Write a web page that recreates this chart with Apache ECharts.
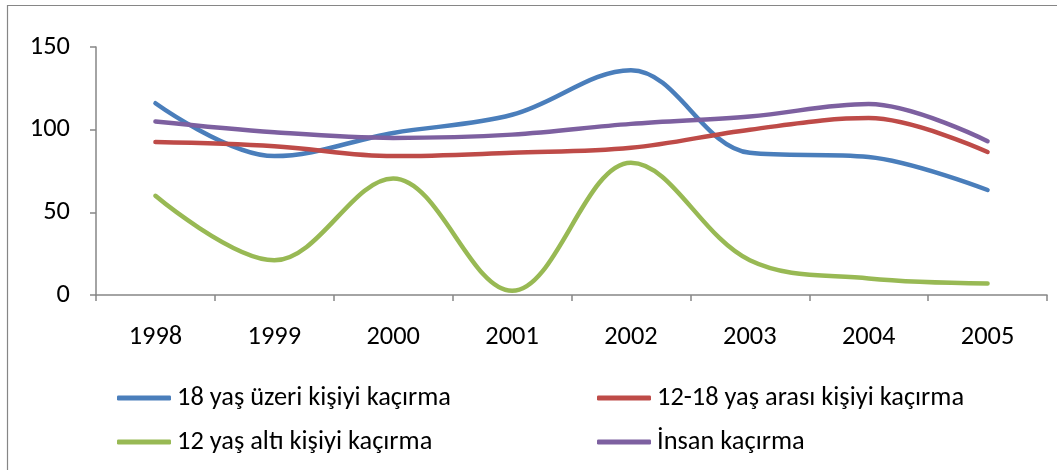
<!DOCTYPE html>
<html>
<head>
<meta charset="utf-8">
<script src="https://cdn.jsdelivr.net/npm/echarts@6/dist/echarts.min.js"></script>
<style>
html,body{margin:0;padding:0;background:#fff;}
#c{width:1057px;height:470px;}
</style>
</head>
<body>
<div id="c"></div>
<script>
const categories = ['1998','1999','2000','2001','2002','2003','2004','2005'];
const seriesNames = ['18 yaş üzeri kişiyi kaçırma','12-18 yaş arası kişiyi kaçırma','12 yaş altı kişiyi kaçırma','İnsan kaçırma'];
const over18 = [116, 84, 98, 109, 136, 86, 83.5, 63.5];
const age12to18 = [92.5, 90, 84, 86, 89, 100, 107, 86.5];
const under12 = [60, 21, 70.5, 2.5, 80, 21, 10, 7];
const abduction = [105, 98.5, 95, 97, 103.5, 108, 115.5, 93];
const colors = ['#4A7EBB','#BE4B48','#98B954','#7D60A0'];
const seriesData = [over18, age12to18, under12, abduction];

const FONT = 'Carlito, "Open Sans", Lato, sans-serif';
const chart = echarts.init(document.getElementById('c'), null, {renderer:'canvas'});

const legendPos = [
  {left:117, top:385},
  {left:597, top:385},
  {left:117, top:429},
  {left:597, top:429}
];

chart.setOption({
  animation:false,
  backgroundColor:'#fff',
  textStyle:{fontFamily:FONT},
  graphic:[{
    type:'rect',
    shape:{x:7.5,y:5.5,width:1100,height:500},
    style:{fill:'none',stroke:'#868686',lineWidth:1.2},
    silent:true
  }],
  grid:{left:96,right:10,top:47,bottom:175,containLabel:false},
  legend: seriesNames.map((n,i)=>({
    data:[n],
    left:legendPos[i].left,
    top:legendPos[i].top,
    icon:'roundRect',
    itemWidth:54,
    itemHeight:5,
    itemGap:6,
    padding:0,
    textStyle:{fontFamily:FONT,fontSize:26.4,color:'#000',padding:[0,0,0,1]}
  })),
  xAxis:{
    type:'category',
    data:categories,
    boundaryGap:true,
    axisLine:{lineStyle:{color:'#868686',width:1.5}},
    axisTick:{show:true,length:6,inside:false,lineStyle:{color:'#868686',width:1.5}},
    axisLabel:{fontFamily:FONT,fontSize:26.4,color:'#000',margin:29},
    splitLine:{show:false}
  },
  yAxis:{
    type:'value',
    min:0,max:150,interval:50,
    axisLine:{show:true,lineStyle:{color:'#868686',width:1.5}},
    axisTick:{show:true,length:6,lineStyle:{color:'#868686',width:1.5}},
    axisLabel:{fontFamily:FONT,fontSize:26.4,color:'#000',margin:26},
    splitLine:{show:false}
  },
  series: seriesNames.map((n,i)=>({
    name:n,
    type:'line',
    data:seriesData[i],
    smooth:0.36,
    showSymbol:false,
    symbol:'none',
    lineStyle:{color:colors[i],width:4.5,cap:'round'},
    itemStyle:{color:colors[i]}
  }))
});
</script>
</body>
</html>
